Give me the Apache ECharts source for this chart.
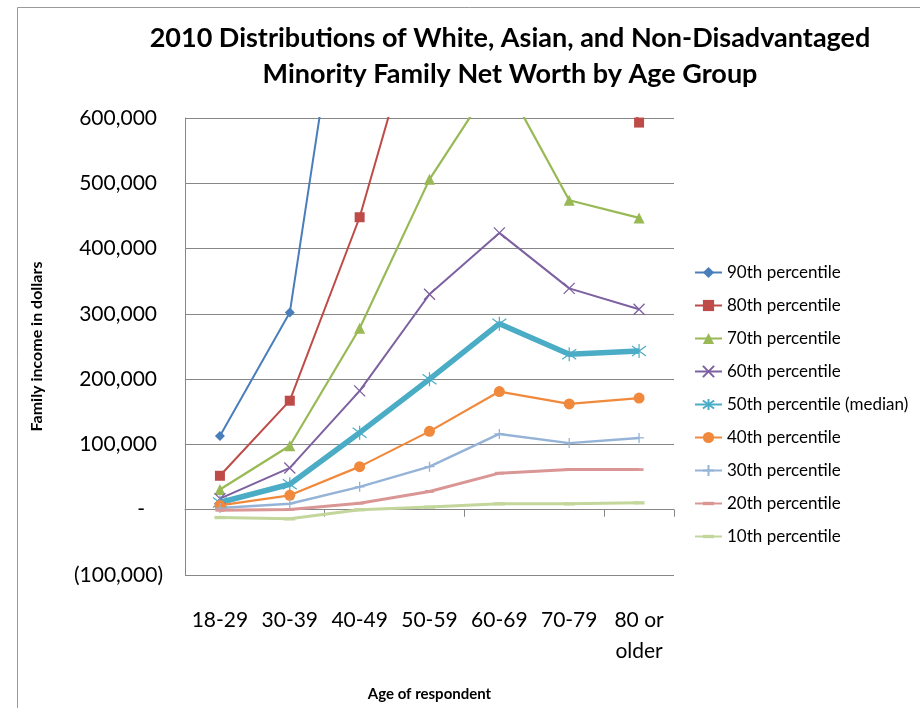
<!DOCTYPE html>
<html>
<head>
<meta charset="utf-8">
<script src="https://cdn.jsdelivr.net/npm/echarts@6/dist/echarts.min.js"></script>
<style>
  html, body { margin: 0; padding: 0; background: #fff; }
  #chart { width: 920px; height: 708px; }
</style>
</head>
<body>
<div id="chart"></div>
<script>
// Age groups along the x axis
const ageGroups = ['18-29', '30-39', '40-49', '50-59', '60-69', '70-79', '80 or older'];

// Family net worth (dollars) by percentile and age group
const p90 = [113000, 302000, 1005000, 1450000, 1900000, 1650000, 1400000];
const p80 = [52000, 167000, 448000, 820000, 1050000, 900000, 593000];
const p70 = [31000, 98000, 278000, 506000, 670000, 474000, 447000];
const p60 = [17000, 64000, 182000, 330000, 424000, 339000, 307000];
const p50 = [11000, 39000, 118000, 200000, 285000, 238000, 243000];
const p40 = [6600, 22000, 66000, 120000, 181000, 162000, 171000];
const p30 = [2500, 9200, 35000, 66000, 116000, 102000, 110000];
const p20 = [-1000, 500, 10000, 28000, 56000, 61500, 61500];
const p10 = [-12000, -14000, 0, 4000, 9000, 9000, 10500];

const seriesNames = [
  '90th percentile', '80th percentile', '70th percentile', '60th percentile',
  '50th percentile (median)', '40th percentile', '30th percentile',
  '20th percentile', '10th percentile'
];

// Marker outlines drawn as strokes
const xMark = 'path://M0,0 L10,10 M10,0 L0,10';
const starMark = 'path://M0,0 L10,10 M10,0 L0,10 M5,-2 L5,12';
const plusMark = 'path://M5,0 L5,10 M0,5 L10,5';
// Flat dash inside a square box (the empty points keep the box square)
const dashMark = 'path://M0,3.5 L10,3.5 L10,6.5 L0,6.5 Z M5,0 L5,0 M5,10 L5,10';

const FONT = 'Lato';
const GRID_GRAY = '#878787';

function fmt(v) {
  return Math.abs(v).toString().replace(/\B(?=(\d{3})+(?!\d))/g, ',');
}

function lineSeries(name, data, color, opts) {
  const s = {
    name: name,
    type: 'line',
    data: data,
    xAxisIndex: 0,
    yAxisIndex: 0,
    symbol: opts.symbol,
    symbolSize: opts.size,
    showAllSymbol: true,
    clip: true,
    lineStyle: { color: color, width: opts.width },
    itemStyle: { color: color },
    emphasis: { disabled: true },
    animation: false
  };
  if (opts.stroke) {
    s.itemStyle = { color: color, borderColor: color, borderWidth: opts.stroke };
  }
  return s;
}

const chart = echarts.init(document.getElementById('chart'), null, { renderer: 'canvas' });

chart.setOption({
  backgroundColor: '#ffffff',
  animation: false,
  title: {
    text: '2010 Distributions of White, Asian, and Non-Disadvantaged\nMinority Family Net Worth by Age Group',
    left: 505,
    top: 15,
    textAlign: 'center',
    textStyle: {
      fontFamily: FONT, fontWeight: 'bold', fontSize: 27, lineHeight: 36, color: '#000'
    }
  },
  graphic: [{
    type: 'rect',
    shape: { x: 17.5, y: 7.5, width: 1200, height: 1200 },
    style: { fill: 'none', stroke: '#9a9a9a', lineWidth: 1 },
    silent: true,
    z: -1
  }],
  legend: {
    orient: 'vertical',
    left: 694,
    top: 264,
    padding: 0,
    itemWidth: 27,
    itemHeight: 14,
    itemGap: 16,
    data: seriesNames,
    textStyle: { fontFamily: FONT, fontSize: 17, lineHeight: 17, color: '#000' }
  },
  grid: { left: 185, top: 118, right: 246, bottom: 133, containLabel: false },
  xAxis: [{
    type: 'category',
    data: ageGroups,
    position: 'bottom',
    boundaryGap: true,
    axisLine: { show: false, onZero: false },
    axisTick: { show: false },
    axisLabel: {
      margin: 30,
      fontFamily: FONT, fontSize: 21, lineHeight: 31, color: '#000',
      interval: 0,
      formatter: v => v.replace(' or ', ' or\n')
    },
    name: 'Age of respondent',
    nameLocation: 'middle',
    nameGap: 112,
    nameTextStyle: { fontFamily: FONT, fontWeight: 'bold', fontSize: 15, color: '#000' }
  }, {
    type: 'category',
    data: ageGroups,
    boundaryGap: true,
    axisLine: { show: true, onZero: true, onZeroAxisIndex: 0, lineStyle: { color: GRID_GRAY, width: 1 } },
    axisTick: { show: true, inside: true, length: 7, lineStyle: { color: GRID_GRAY, width: 1 } },
    axisLabel: { show: false }
  }],
  yAxis: {
    type: 'value',
    min: -100000,
    max: 600000,
    interval: 100000,
    axisLine: { show: true, lineStyle: { color: GRID_GRAY, width: 1 } },
    axisTick: { show: false },
    splitLine: { show: true, lineStyle: { color: GRID_GRAY, width: 1 } },
    axisLabel: {
      margin: 22,
      fontFamily: FONT, fontSize: 21, color: '#000',
      formatter: v => v < 0 ? '{n|(' + fmt(v) + ')}' : (v === 0 ? '{z|-}' : '{p|' + fmt(v) + '}'),
      rich: {
        n: { fontFamily: FONT, fontSize: 21, color: '#000' },
        p: { fontFamily: FONT, fontSize: 21, color: '#000', padding: [0, 6, 0, 0] },
        z: { fontFamily: FONT, fontSize: 21, color: '#000', padding: [0, 18, 0, 0] }
      }
    },
    name: 'Family income in dollars',
    nameLocation: 'middle',
    nameRotate: 90,
    nameGap: 140,
    nameTextStyle: { fontFamily: FONT, fontWeight: 'bold', fontSize: 16, color: '#000' }
  },
  series: [
    lineSeries(seriesNames[0], p90, '#4A7EBB', { symbol: 'diamond', size: 10, width: 2 }),
    lineSeries(seriesNames[1], p80, '#BE4B48', { symbol: 'rect', size: 10, width: 2 }),
    lineSeries(seriesNames[2], p70, '#98B954', { symbol: 'triangle', size: 11, width: 2.2 }),
    lineSeries(seriesNames[3], p60, '#7D60A0', { symbol: xMark, size: 11, width: 2, stroke: 1.3 }),
    lineSeries(seriesNames[4], p50, '#4BACC6', { symbol: starMark, size: 14, width: 5.5, stroke: 1.2 }),
    lineSeries(seriesNames[5], p40, '#F0893B', { symbol: 'circle', size: 11, width: 2.2 }),
    lineSeries(seriesNames[6], p30, '#95B3D7', { symbol: plusMark, size: 10, width: 2.5, stroke: 1.3 }),
    lineSeries(seriesNames[7], p20, '#D99694', { symbol: dashMark, size: 9, width: 3 }),
    lineSeries(seriesNames[8], p10, '#C3D69B', { symbol: dashMark, size: 11, width: 3 })
  ]
});
</script>
</body>
</html>
